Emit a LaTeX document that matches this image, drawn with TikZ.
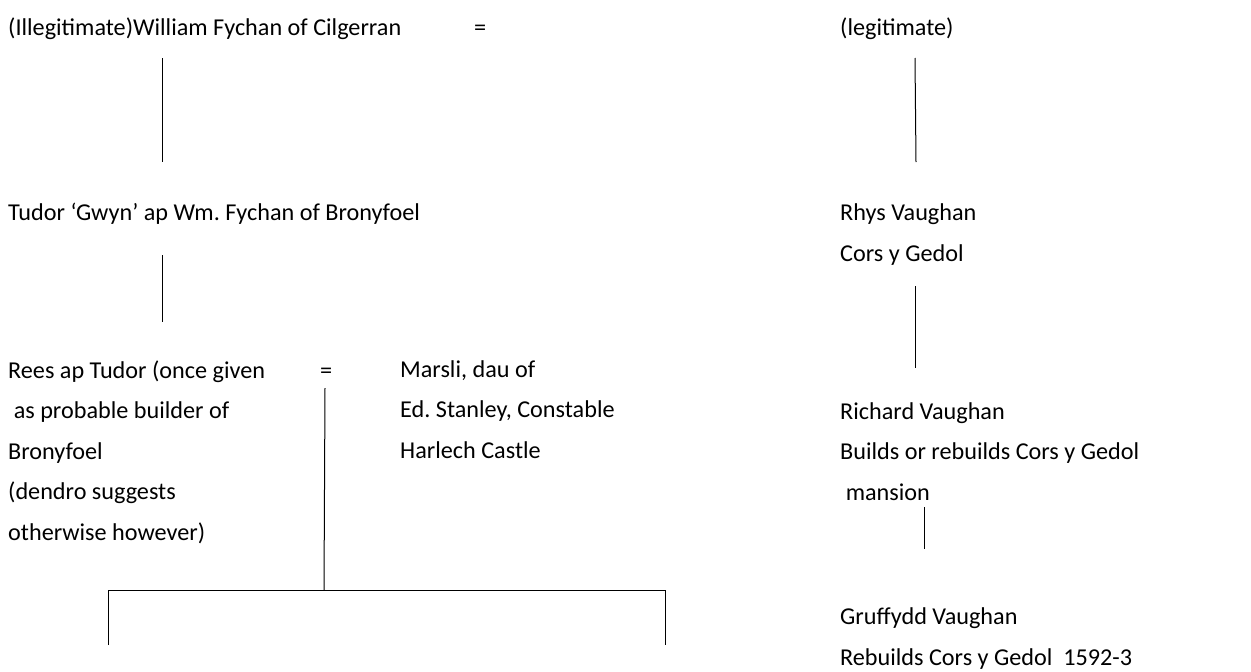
\documentclass[tikz,border=0pt]{standalone}
\usepackage{fontspec}
\setmainfont{Carlito}
\usetikzlibrary{positioning}
\frenchspacing
\tikzset{person/.style={anchor=base west,inner sep=0pt,align=left,font=\fontsize{24.2}{40.5}\selectfont},
         line/.style={line width=1pt}}

\begin{document}
\begin{tikzpicture}[x=1pt,y=-1pt]
      \useasboundingbox (0,0) rectangle (1251,672);

      % anchor base west = baseline of the last line
      \node[person] (William)  at (8,35)    {(Illegitimate)William Fychan of Cilgerran};
      \node[person] (eqTop)    at (474,35)  {=};
      \node[person] (Legit)    at (840,35)  {(legitimate)};

      \node[person] (Tudor)    at (8,220)   {Tudor ‘Gwyn’ ap Wm. Fychan of Bronyfoel};
      \node[person] (Rhys)     at (840,261) {Rhys Vaughan\\Cors y Gedol};

      \node[person] (Rees)     at (8,540)   {Rees ap Tudor (once given\\\hspace*{.23em}as probable builder of\\Bronyfoel\\(dendro suggests\\otherwise however)};
      \node[person] (eqRees)   at (320,378) {=};
      \node[person] (Marsli)   at (400,458) {Marsli, dau of\\Ed. Stanley, Constable\\Harlech Castle};

      \node[person] (Richard)  at (840,500) {Richard Vaughan\\Builds or rebuilds Cors y Gedol\\\hspace*{.23em}mansion};
      \node[person] (Gruffydd) at (840,665) {Gruffydd Vaughan\\Rebuilds Cors y Gedol\ \ 1592-3};

      % line ends
      \coordinate (WillA)  at (162,58);  \coordinate (WillB)  at (162,162);
      \coordinate (LegA)   at (915,58);  \coordinate (LegB)   at (916,162);
      \coordinate (TudA)   at (162,255); \coordinate (TudB)   at (162,322);
      \coordinate (RhysA)  at (915,286); \coordinate (RhysB)  at (915,368);
      \coordinate (RichA)  at (924,507); \coordinate (RichB)  at (924,549);
      \coordinate (ReesA)  at (325,388); \coordinate (ReesB)  at (324,590);
      \coordinate (KidL)   at (108,590); \coordinate (KidLB)  at (108,645);
      \coordinate (KidR)   at (665,590); \coordinate (KidRB)  at (665,645);

      \draw[line] (WillA) -- (WillB);
      \draw[line] (LegA)  -- (LegB);
      \draw[line] (TudA)  -- (TudB);
      \draw[line] (RhysA) -- (RhysB);
      \draw[line] (RichA) -- (RichB);
      \draw[line] (ReesA) -- (ReesB);

      \draw[line] (KidLB) -- (KidL) -- (KidR) -- (KidRB);
    \end{tikzpicture}
\end{document}
